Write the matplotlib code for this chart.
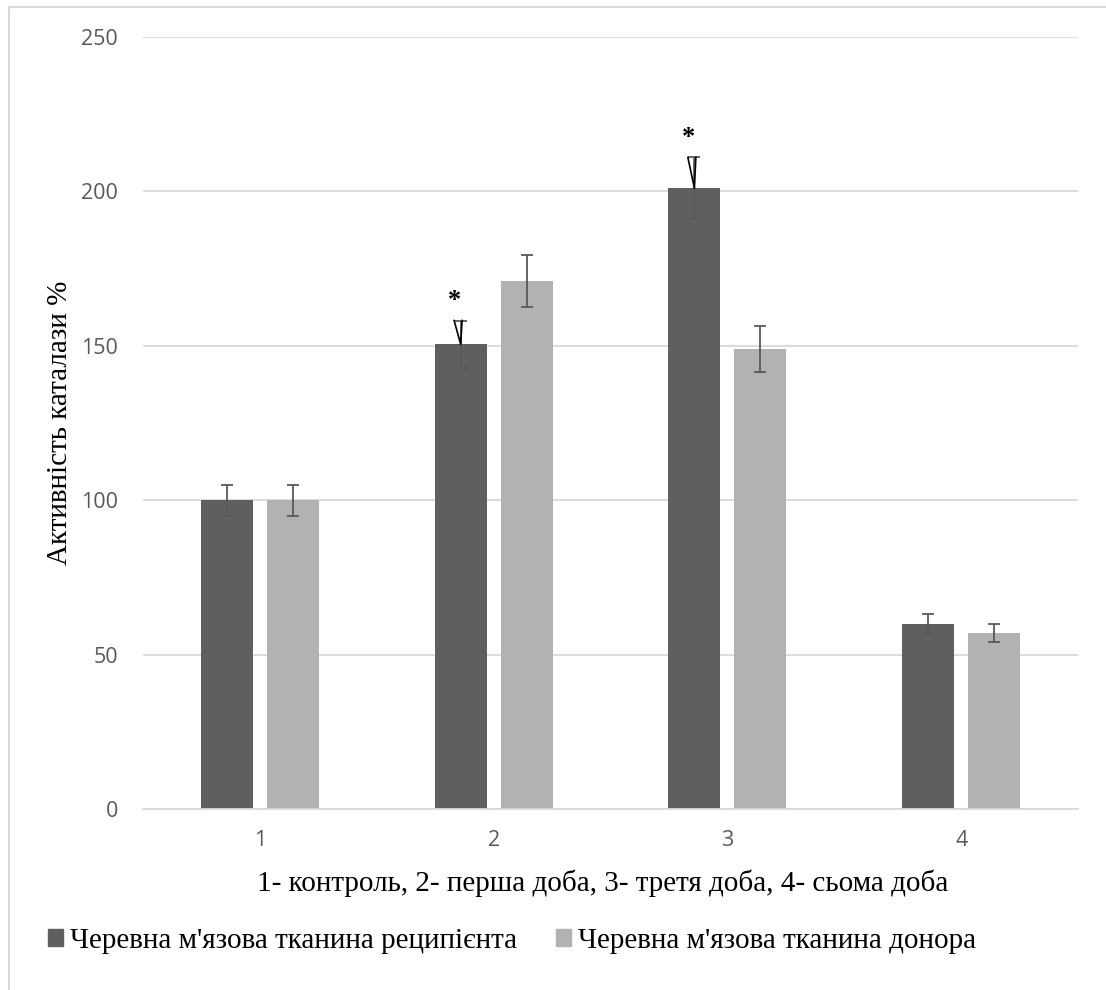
import numpy as np
import matplotlib
matplotlib.use("Agg")
import matplotlib.pyplot as plt
from matplotlib.lines import Line2D
from matplotlib.patches import Patch

groups = ["1", "2", "3", "4"]
recipient = [100, 150.5, 201, 60]
recipient_err = [5, 7.7, 10, 3]
donor = [100, 171, 149, 57]
donor_err = [5, 8.5, 7.5, 3]
marked = [1, 2]  # groups with asterisk
series_names = ["Черевна м'язова тканина реципієнта", "Черевна м'язова тканина донора"]
xlabel = "1- контроль, 2- перша доба, 3- третя доба, 4- сьома доба"
ylabel = "Активність каталази %"

dark = "#5f5f5f"
light = "#b2b2b2"
grey_txt = "#595959"

fig = plt.figure(figsize=(11.06, 9.9), dpi=100)
ax = fig.add_axes([0.1293, 0.1828, 0.8454, 0.7798])

x = np.arange(len(groups))
w = 0.222
off = 0.141
ax.bar(x - off, recipient, w, color=dark, zorder=2)
ax.bar(x + off, donor, w, color=light, zorder=2)
ekw = dict(fmt="none", ecolor=grey_txt, elinewidth=1.3, capsize=4.5, capthick=1.3, zorder=3)
ax.errorbar(x - off, recipient, yerr=recipient_err, **ekw)
ax.errorbar(x + off, donor, yerr=donor_err, **ekw)

# hand-drawn significance marks
for i in marked:
    xc = x[i] - off
    top = recipient[i] + recipient_err[i]
    ax.plot([xc - 0.028, xc, xc + 0.006], [top, recipient[i], top],
            color="black", lw=1.2, zorder=4)
    ax.text(xc - 0.027, top + 6.5, "*", ha="center", va="center",
            fontsize=19, fontweight="bold", family="Liberation Serif", zorder=4)

ax.set_xlim(-0.5, len(groups) - 0.5)
ax.set_ylim(0, 250)
ax.set_yticks(np.arange(0, 251, 50))
ax.set_xticks(x)
ax.set_xticklabels(groups)
ax.yaxis.grid(True, color="#d9d9d9", lw=1.3, zorder=0)
ax.set_axisbelow(True)
for s in ["top", "right", "left"]:
    ax.spines[s].set_visible(False)
ax.spines["bottom"].set_color("#d9d9d9")
ax.spines["bottom"].set_linewidth(1.3)
ax.tick_params(length=0, labelsize=15.5, labelcolor=grey_txt)
ax.tick_params(axis="y", pad=18)
ax.tick_params(axis="x", pad=15)
for t in ax.get_xticklabels() + ax.get_yticklabels():
    t.set_family("Open Sans")

fig.text(0.0543, 0.573, ylabel, rotation=90, ha="center", va="center",
         fontsize=21, family="Liberation Serif")
fig.text(0.545, 0.108, xlabel, ha="center", va="center",
         fontsize=21, family="Liberation Serif")

handles = [Patch(color=dark), Patch(color=light)]
fig.legend(handles, series_names, loc="center left", bbox_to_anchor=(0.0434, 0.05),
           ncol=2, frameon=False, prop={"family": "Liberation Serif", "size": 21},
           borderpad=0, borderaxespad=0,
           handlelength=0.52, handleheight=0.52, handletextpad=0.25, columnspacing=1.3)

# outer chart frame (top and left edges)
fig.add_artist(Line2D([0.008, 1.0], [0.993, 0.993], color="#d9d9d9", lw=1.5))
fig.add_artist(Line2D([0.008, 0.008], [0.0, 0.993], color="#d9d9d9", lw=1.5))

fig.savefig("out.png", dpi=100)
